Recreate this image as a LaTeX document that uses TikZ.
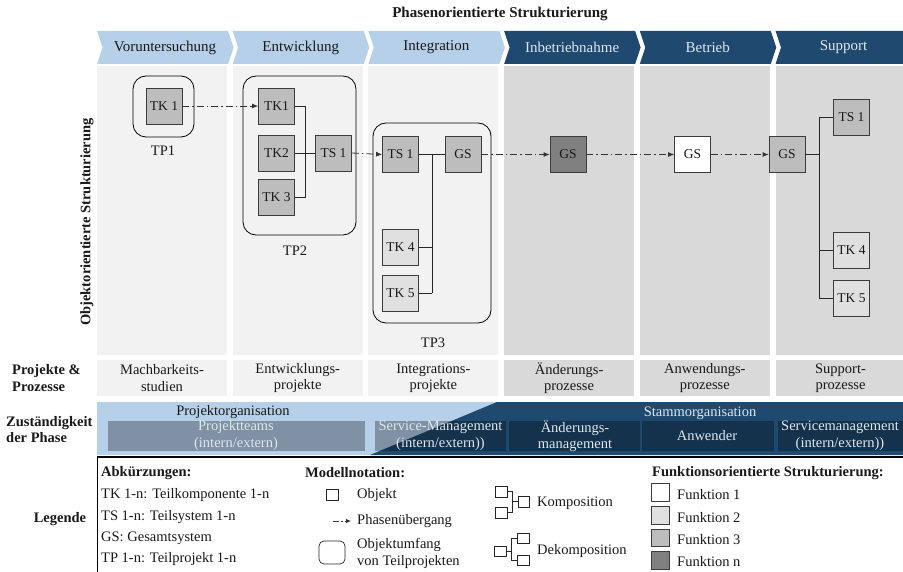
\documentclass[tikz,border=0pt]{standalone}
\usepackage{fontspec}
\setmainfont{Liberation Serif}
\usetikzlibrary{arrows.meta}

\definecolor{chevlight}{RGB}{182,208,234}
\definecolor{chevdark}{RGB}{31,73,110}
\definecolor{panellight}{RGB}{242,242,242}
\definecolor{paneldark}{RGB}{217,217,217}
\definecolor{funcone}{RGB}{255,255,255}
\definecolor{functwo}{RGB}{224,224,224}
\definecolor{functhree}{RGB}{189,189,189}
\definecolor{funcn}{RGB}{128,128,128}
\definecolor{boxline}{RGB}{60,60,60}
\definecolor{lighttext}{RGB}{222,231,240}
\definecolor{darktext}{RGB}{25,25,25}

\tikzset{
  txt/.style={font=\fontsize{14.5}{16.5}\selectfont, inner sep=0pt, text=darktext},
  bigtxt/.style={font=\fontsize{15}{17}\selectfont, inner sep=0pt, text=darktext},
  boldtxt/.style={font=\fontsize{14.5}{16.5}\selectfont\bfseries, inner sep=0pt, text=darktext},
  obj/.style={draw=boxline, line width=0.8pt, minimum width=36pt, minimum height=36pt,
              inner sep=0pt, font=\fontsize{13.5}{15}\selectfont, text=darktext},
  fA/.style={obj, fill=funcone},
  fB/.style={obj, fill=functwo},
  fC/.style={obj, fill=functhree},
  fN/.style={obj, fill=funcn},
  tpframe/.style={draw=black, line width=0.8pt, rounded corners=13pt},
  link/.style={draw=black!85, line width=0.8pt},
  phase/.style={draw=black!80, line width=0.8pt,
                dash pattern=on 7pt off 3pt on 1.5pt off 3pt,
                -{Latex[length=6pt,width=5pt]}},
  bandbox/.style={fill=black, fill opacity=0.3},
  legsq/.style={draw=black!85, line width=0.7pt},
}

\begin{document}
\begin{tikzpicture}[x=1pt,y=-1pt]
\useasboundingbox (0,0) rectangle (903,572);
\fill[white] (0,0) rectangle (903,572);

% title
\node[bigtxt, font=\fontsize{15}{17}\selectfont\bfseries] (title) at (500,14) {Phasenorientierte Strukturierung};

% phase chevrons, object panels and project/process row
\foreach \k/\lab/\fc/\tc/\pc/\row in {
   0/Voruntersuchung/chevlight/darktext/panellight/{Machbarkeits-\\studien},
   1/Entwicklung/chevlight/darktext/panellight/{Entwicklungs-\\projekte},
   2/Integration/chevlight/darktext/panellight/{Integrations-\\projekte},
   3/Inbetriebnahme/chevdark/lighttext/paneldark/{Änderungs-\\prozesse},
   4/Betrieb/chevdark/lighttext/paneldark/{Anwendungs-\\prozesse},
   5/Support/chevdark/lighttext/paneldark/{Support-\\prozesse}} {
  \pgfmathsetmacro\xa{97+135.7*\k}
  \fill[\fc] (\xa,31) -- ++(131,0) -- ++(5.5,16.5) -- ++(-5.5,16.5)
             -- (\xa,64) -- ++(5.5,-16.5) -- cycle;
  \node[bigtxt, text=\tc] (chev\k) at (\xa+68,47.5) {\lab};
  \fill[\pc] (\xa,66) rectangle ++(130,289);
  \fill[\pc] (\xa,360) rectangle ++(130,36);
  \node[txt, align=center] (row\k) at (\xa+65,378) {\row};
}

% left row headings
\node[boldtxt, rotate=90] (objlabel) at (87,222) {Objektorientierte Strukturierung};
\node[boldtxt, anchor=west, align=left] (pplabel) at (12,378) {Projekte \&\\Prozesse};
\node[boldtxt, anchor=west, align=left] (zlabel) at (6,429.5) {Zuständigkeit\\der Phase};
\node[boldtxt] (leglabel) at (60,519) {Legende};

% ---- Voruntersuchung
\draw[tpframe] (133,76) rectangle (194,137);
\node[fC] (a1) at (164,106) {TK 1};
\node[txt] (tp1) at (163,151) {TP1};

% ---- Entwicklung
\draw[tpframe] (243,76) rectangle (356,235);
\node[fC] (b1) at (276.5,106) {TK1};
\node[fC] (b2) at (276.5,153) {TK2};
\node[fC] (b3) at (276.5,197) {TK 3};
\node[fC] (bs) at (333.5,153) {TS 1};
\node[txt] (tp2) at (295,251) {TP2};
\draw[link] (b1.east) -- (305,106) -- (305,197) -- (b3.east);
\draw[link] (b2.east) -- (bs.west);

% ---- Integration
\draw[tpframe] (373,123) rectangle (491,323);
\node[fC] (c1) at (400.5,154.5) {TS 1};
\node[fC] (cg) at (463,154.5) {GS};
\node[fB] (c4) at (400.5,247) {TK 4};
\node[fB] (c5) at (400.5,293.5) {TK 5};
\node[txt] (tp3) at (433,343) {TP3};
\draw[link] (c1.east) -- (cg.west);
\draw[link] (432,154.5) -- (432,293.5);
\draw[link] (c4.east) -- (432,247);
\draw[link] (c5.east) -- (432,293.5);

% ---- Inbetriebnahme, Betrieb, Support
\node[fN] (d) at (568,154.5) {GS};
\node[fA] (e) at (692.5,154.5) {GS};
\node[fC] (f) at (787,154.5) {GS};
\node[fC] (f1) at (851.5,117.5) {TS 1};
\node[fB] (f4) at (851.5,250.5) {TK 4};
\node[fB] (f5) at (851.5,298) {TK 5};
\draw[link] (f.east) -- (819,154.5);
\draw[link] (f1.west) -- (819,117.5) -- (819,298) -- (f5.west);
\draw[link] (f4.west) -- (819,250.5);

% phase transitions
\draw[phase] (a1.east) -- (b1.west);
\draw[phase] (bs.east) -- (c1.west);
\draw[phase] (cg.east) -- (d.west);
\draw[phase] (d.east) -- (e.west);
\draw[phase] (e.east) -- (f.west);

% ---- responsibility band
\fill[chevlight] (97,402) rectangle (903,455);
\fill[chevdark] (370,455) -- (497,402) -- (903,402) -- (903,455) -- cycle;
\fill[bandbox] (108,421) rectangle (365,451);
\fill[bandbox] (375,421) rectangle (506,451);
\fill[bandbox] (509,421) rectangle (640,451);
\fill[bandbox] (642,421) rectangle (774,451);
\fill[bandbox] (778,421) rectangle (903,451);
\node[txt] (porg) at (233,412) {Projektorganisation};
\node[txt, text=lighttext] (sorg) at (700,413) {Stammorganisation};
\node[txt, text=lighttext, align=center] (pteam) at (236,435.5) {Projektteams\\(intern/extern)};
\node[txt, text=lighttext, align=center] (smgmt) at (440.5,435.5) {Service-Management\\(intern/extern))};
\node[txt, text=lighttext, align=center] (amgmt) at (575,436) {Änderungs-\\management};
\node[txt, text=lighttext] (anw) at (707,436) {Anwender};
\node[txt, text=lighttext, align=center] (svc) at (840,435.5) {Servicemanagement\\(intern/extern))};

% ---- legend frame
\draw[line width=1.6pt] (97,457) -- (903,457);
\draw[line width=0.8pt] (97,457) -- (97,572);

% abbreviations
\node[boldtxt, anchor=west] (abk) at (101,473) {Abkürzungen:};
\node[txt, anchor=west] (abk1) at (101,495) {TK 1-n: Teilkomponente 1-n};
\node[txt, anchor=west] (abk2) at (101,517) {TS 1-n: Teilsystem 1-n};
\node[txt, anchor=west] (abk3) at (101,538.5) {GS: Gesamtsystem};
\node[txt, anchor=west] (abk4) at (101,559) {TP 1-n: Teilprojekt 1-n};

% model notation
\node[boldtxt, anchor=west] (mod) at (305,473) {Modellnotation:};
\draw[legsq] (326,489.5) rectangle (338,500.5);
\node[txt, anchor=west] (mod1) at (357,495) {Objekt};
\coordinate (pha) at (333,521);
\coordinate (phb) at (351,521);
\draw[line width=0.8pt, draw=black!80, dash pattern=on 6pt off 2pt on 1.5pt off 2pt,
      -{Latex[length=5pt,width=4.5pt]}] (pha) -- (phb);
\node[txt, anchor=west] (mod2) at (357,521) {Phasenübergang};
\draw[legsq, rounded corners=5pt] (319,541) rectangle (345,564);
\node[txt, anchor=west, align=left] (mod3) at (357,553.5) {Objektumfang\\von Teilprojekten};

% composition icon
\draw[legsq] (495,486) rectangle (507,497);
\draw[legsq] (495,507) rectangle (507,518);
\draw[legsq] (518,496) rectangle (529,507);
\draw[legsq] (507,491) -- (512,491) -- (512,512.5) -- (507,512.5);
\draw[legsq] (512,501.5) -- (518,501.5);
\node[txt, anchor=west] (komp) at (537,503) {Komposition};

% decomposition icon
\draw[legsq] (494,546) rectangle (506,556);
\draw[legsq] (517,533) rectangle (529,543);
\draw[legsq] (517,555) rectangle (529,565);
\draw[legsq] (506,551) -- (511,551);
\draw[legsq] (517,538) -- (511,538) -- (511,560) -- (517,560);
\node[txt, anchor=west] (dekomp) at (537,551) {Dekomposition};

% function colours
\node[boldtxt, anchor=west] (fun) at (652,473) {Funktionsorientierte Strukturierung:};
\draw[draw=boxline, line width=0.8pt, fill=funcone]   (651,483) rectangle (669,501);
\draw[draw=boxline, line width=0.8pt, fill=functwo]   (651,506.5) rectangle (669,524);
\draw[draw=boxline, line width=0.8pt, fill=functhree] (651,529) rectangle (669,546.5);
\draw[draw=boxline, line width=0.8pt, fill=funcn]     (651,551.5) rectangle (669,569);
\node[txt, anchor=west] (fun1) at (677,495) {Funktion 1};
\node[txt, anchor=west] (fun2) at (677,517.5) {Funktion 2};
\node[txt, anchor=west] (fun3) at (677,540) {Funktion 3};
\node[txt, anchor=west] (funn) at (677,562) {Funktion n};
\end{tikzpicture}
\end{document}
